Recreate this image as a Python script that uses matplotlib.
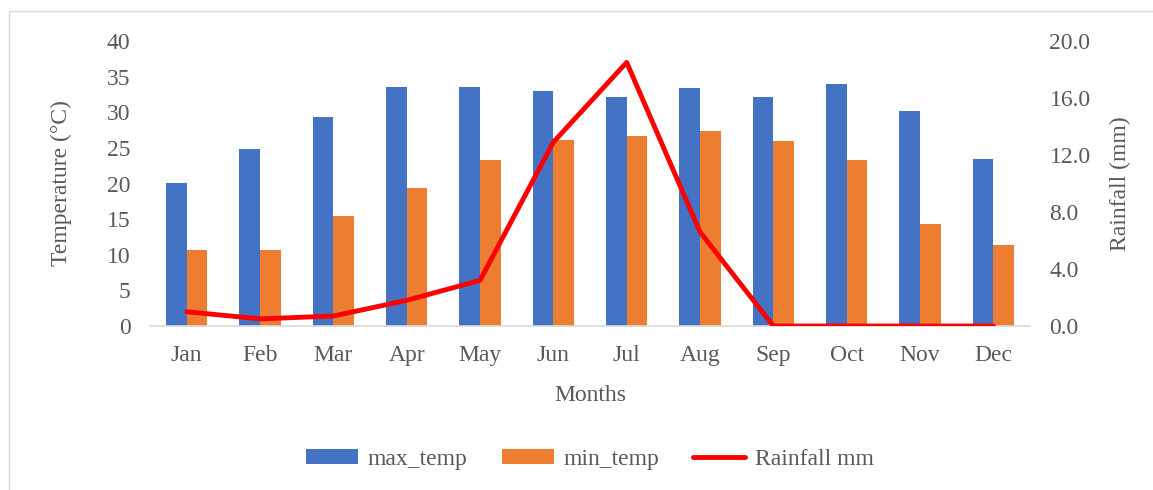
import matplotlib
matplotlib.use("Agg")
import matplotlib.pyplot as plt
from matplotlib.patches import Rectangle
from matplotlib.ticker import FormatStrFormatter
import numpy as np

months = ["Jan", "Feb", "Mar", "Apr", "May", "Jun",
          "Jul", "Aug", "Sep", "Oct", "Nov", "Dec"]
max_temp = [20.1, 24.8, 29.4, 33.5, 33.6, 33.0, 32.2, 33.4, 32.2, 34.0, 30.2, 23.5]
min_temp = [10.7, 10.7, 15.4, 19.3, 23.3, 26.1, 26.6, 27.3, 25.9, 23.3, 14.3, 11.3]
rainfall = [1.0, 0.5, 0.7, 1.8, 3.2, 12.9, 18.5, 6.6, 0.0, 0.0, 0.0, 0.0]

plt.rcParams["font.family"] = ["Liberation Serif", "DejaVu Serif"]
text_col = "#595959"
fs = 17

fig = plt.figure(figsize=(11.53, 4.90), dpi=100)
ax = fig.add_axes([150 / 1153, 1 - 326 / 490, 880 / 1153, 285 / 490])

x = np.arange(len(months))
w = 0.28
ax.bar(x - w / 2, max_temp, w, color="#4472C4", label="max_temp")
ax.bar(x + w / 2, min_temp, w, color="#ED7D31", label="min_temp")
ax.set_xlim(-0.5, len(months) - 0.5)
ax.set_ylim(0, 40)
ax.set_yticks(range(0, 41, 5))
ax.set_xticks(x)
ax.set_xticklabels(months)

ax2 = ax.twinx()
ax2.plot(x, rainfall, color="#FF0000", lw=3.5, solid_capstyle="round",
         solid_joinstyle="round", label="Rainfall mm")
ax2.set_ylim(0, 20)
ax2.set_yticks(np.arange(0, 20.1, 4))
ax2.yaxis.set_major_formatter(FormatStrFormatter("%.1f"))

for a in (ax, ax2):
    for s in a.spines.values():
        s.set_visible(False)
    a.tick_params(length=0, labelsize=fs, colors=text_col)
ax.spines["bottom"].set_visible(True)
ax.spines["bottom"].set_color("#D9D9D9")
ax.spines["bottom"].set_linewidth(1.2)
ax.tick_params(axis="y", pad=14)
ax.tick_params(axis="x", pad=14)
ax2.tick_params(axis="y", pad=14)

ax.set_ylabel("Temperature (°C)", fontsize=fs, color=text_col, labelpad=25)
ax2.set_ylabel("Rainfall (mm)", fontsize=fs, color=text_col, labelpad=14)
ax.set_xlabel("Months", fontsize=fs, color=text_col, labelpad=13)

h1, l1 = ax.get_legend_handles_labels()
h2, l2 = ax2.get_legend_handles_labels()
fig.legend(h1 + h2, l1 + l2, loc="center", bbox_to_anchor=(590 / 1153, 1 - 459 / 490),
           ncol=3, frameon=False, fontsize=fs, labelcolor=text_col,
           handlelength=2.2, handleheight=0.6, columnspacing=1.45, handletextpad=0.4)

fig.patches.append(Rectangle((9 / 1153, -0.05), 1.1, 1 - 11 / 490 + 0.05,
                             transform=fig.transFigure, fill=False,
                             edgecolor="#D9D9D9", lw=1))

fig.savefig("out.png", dpi=100)
